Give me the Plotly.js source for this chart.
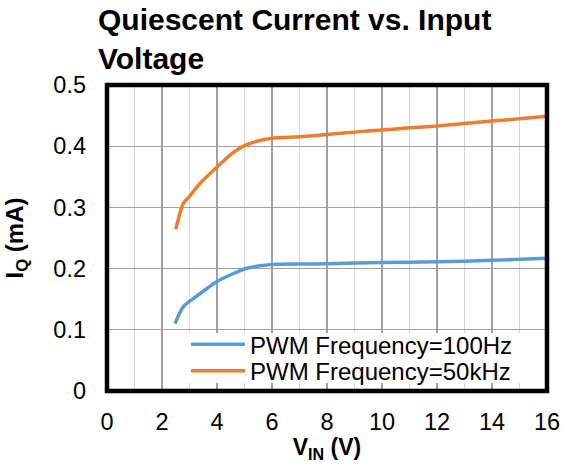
<!DOCTYPE html>
<html>
<head>
<meta charset="utf-8">
<script src="https://cdn.plot.ly/plotly-3.0.1.min.js"></script>
<style>html,body{margin:0;padding:0;background:#fff;}#chart{width:564px;height:468px;}</style>
</head>
<body>
<div id="chart"></div>
<script>
// Data
var seriesNames = ["PWM Frequency=100Hz", "PWM Frequency=50kHz"];
var vin100 = [2.47, 2.78, 3.14, 3.5, 4.0, 4.6, 5.08, 5.56, 6.17, 7.0, 8, 10, 12, 14, 16];
var iq100  = [0.110, 0.138, 0.151, 0.163, 0.179, 0.192, 0.2005, 0.2045, 0.207, 0.2075, 0.2078, 0.210, 0.211, 0.2135, 0.2168];
var vin50  = [2.5, 2.78, 3.0, 3.38, 4.0, 4.6, 5.0, 5.44, 6.0, 7.0, 8, 9, 10, 11, 12, 13, 14, 15, 16];
var iq50   = [0.264, 0.307, 0.318, 0.339, 0.366, 0.390, 0.401, 0.408, 0.413, 0.4155, 0.419, 0.423, 0.4265, 0.430, 0.433, 0.437, 0.441, 0.445, 0.449];
var xTicks = [0, 2, 4, 6, 8, 10, 12, 14, 16];
var yTicks = [0, 0.1, 0.2, 0.3, 0.4, 0.5];

var FONT = "Liberation Sans, Arial, sans-serif";

var traces = [
  {x: vin100, y: iq100, name: seriesNames[0], type: "scatter", mode: "lines", legend: "legend",
   line: {color: "#5B9BD5", width: 3.5, shape: "spline", smoothing: 0.8}},
  {x: vin50, y: iq50, name: seriesNames[1], type: "scatter", mode: "lines", legend: "legend2",
   line: {color: "#ED7D31", width: 3.5, shape: "spline", smoothing: 0.8}}
];

var legendCommon = {
  xanchor: "left", yanchor: "top",
  bgcolor: "rgba(0,0,0,0)", borderwidth: 0,
  font: {family: FONT, size: 24, color: "#000"},
  itemwidth: 54, tracegroupgap: 0
};
var legend1 = Object.assign({}, legendCommon, {x: 0.1795, y: 0.225});
var legend2 = Object.assign({}, legendCommon, {x: 0.1795, y: 0.138});

var layout = {
  width: 564, height: 468,
  margin: {l: 107, r: 17, t: 85, b: 77},
  paper_bgcolor: "#fff", plot_bgcolor: "#fff",
  font: {family: FONT, color: "#000", size: 23},
  showlegend: true,
  title: {
    text: "<b>Quiescent Current vs. Input<br>Voltage</b>",
    font: {family: FONT, size: 30, color: "#000"},
    xref: "container", x: 98/564, xanchor: "left",
    yref: "container", y: 1 - 30/468, yanchor: "top"
  },
  xaxis: {
    range: [0, 16], tickvals: xTicks, ticktext: xTicks.map(String),
    showgrid: true, gridcolor: "#a0a0a0", gridwidth: 1.3,
    minor: {dtick: 1, showgrid: true, gridcolor: "#d4d4d4", gridwidth: 1.3},
    zeroline: false, showline: false, ticks: "",
    ticklabelstandoff: 14,
    tickfont: {family: FONT, size: 23.5, color: "#000"},
    title: {text: "<b>V<sub>IN</sub> (V)</b>", font: {family: FONT, size: 23, color: "#000"}, standoff: 2}
  },
  yaxis: {
    range: [0, 0.5], tickvals: yTicks, ticktext: yTicks.map(function(v){return String(v);}),
    showgrid: true, gridcolor: "#a0a0a0", gridwidth: 1.3,
    zeroline: false, showline: false, ticks: "",
    ticklabelstandoff: 20,
    tickfont: {family: FONT, size: 23.5, color: "#000"},
    title: {text: "<b>I<sub>Q</sub> (mA)</b>", font: {family: FONT, size: 24, color: "#000"}, standoff: 22}
  },
  legend: legend1,
  legend2: legend2,
  shapes: [
    {type: "rect", xref: "x", yref: "y", x0: 2.5, x1: 15.3, y0: 0.013, y1: 0.0948,
     fillcolor: "#fff", line: {width: 0}, layer: "between"},
    {type: "rect", xref: "paper", yref: "paper", x0: 0, x1: 1, y0: 0, y1: 1,
     line: {color: "#000", width: 4.5}, layer: "above"}
  ]
};

Plotly.newPlot("chart", traces, layout, {displayModeBar: false, staticPlot: true});
</script>
</body>
</html>
